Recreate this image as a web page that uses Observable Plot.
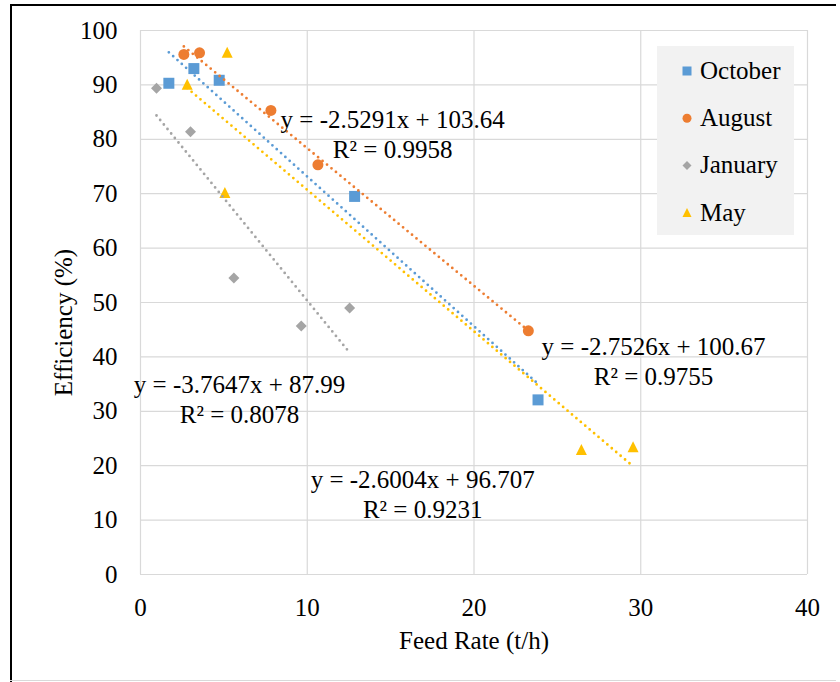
<!DOCTYPE html>
<html><head><meta charset="utf-8">
<script src="https://cdn.jsdelivr.net/npm/d3@7"></script>
<script src="https://cdn.jsdelivr.net/npm/@observablehq/plot@0.6"></script>
<style>
body{margin:0;background:#fff;}
#wrap{position:relative;width:840px;height:682px;overflow:hidden;font-family:"Liberation Serif","Times New Roman",Times,"Nimbus Roman","DejaVu Serif",serif;background:#fff;}
#wrap svg{display:block}
#wrap svg text{font-family:"Liberation Serif","Times New Roman",Times,"Nimbus Roman","DejaVu Serif",serif !important;}
.ln{position:absolute}
#legend{position:absolute;left:657px;top:46px;width:137px;height:189px;background:#F2F2F2;}
</style></head><body>
<div id="wrap"></div>
<script>
// ---- data ----
const series = ["October", "August", "January", "May"];
const colors = ["#5B9BD5", "#ED7D31", "#A5A5A5", "#FFC000"];
const octX = [1.7, 3.2, 4.72, 12.84, 23.84];
const octY = [90.3, 93.0, 90.85, 69.5, 32.1];
const augX = [2.6, 3.54, 7.82, 10.64, 23.26];
const augY = [95.6, 95.9, 85.3, 75.3, 44.8];
const janX = [0.96, 3.0, 5.6, 9.64, 12.54];
const janY = [89.4, 81.4, 54.5, 45.7, 49.0];
const mayX = [2.8, 5.06, 5.2, 26.44, 29.54];
const mayY = [90.1, 70.2, 96.0, 23.0, 23.5];
const slopes = [-2.7526, -2.5291, -3.7647, -2.6004];
const intercepts = [100.67, 103.64, 87.99, 96.707];
const eqText = ["y = -2.7526x + 100.67", "y = -2.5291x + 103.64", "y = -3.7647x + 87.99", "y = -2.6004x + 96.707"];
const r2Text = ["R² = 0.9755", "R² = 0.9958", "R² = 0.8078", "R² = 0.9231"];
const labelX = [30.77, 15.12, 5.94, 16.92];
const labelY = [39.3, 81.0, 32.3, 14.97];
const xTicks = [0, 10, 20, 30, 40];
const yTicks = [0, 10, 20, 30, 40, 50, 60, 70, 80, 90, 100];
const xTitle = "Feed Rate (t/h)";
const yTitle = "Efficiency (%)";

const FONT = "'Liberation Serif', 'Times New Roman', Times, 'Nimbus Roman', 'DejaVu Serif', serif";

// ---- symbols (Excel-like, centered on bounding box; r = sqrt(size/pi)) ----
const symSquare = {draw(c, size){const r = Math.sqrt(size/Math.PI); c.rect(-r, -r, 2*r, 2*r);}};
const symCircle = {draw(c, size){const r = Math.sqrt(size/Math.PI); c.moveTo(r, 0); c.arc(0, 0, r, 0, 2*Math.PI);}};
const symDiamond = {draw(c, size){const r = Math.sqrt(size/Math.PI); c.moveTo(0, -r); c.lineTo(r, 0); c.lineTo(0, r); c.lineTo(-r, 0); c.closePath();}};
const symTriangle = {draw(c, size){const r = Math.sqrt(size/Math.PI); c.moveTo(0, -r); c.lineTo(r, r); c.lineTo(-r, r); c.closePath();}};
const syms = [symSquare, symCircle, symDiamond, symTriangle];
const symR = [5.5, 5.5, 5.5, 5.5];

const xs = [octX, augX, janX, mayX];
const ys = [octY, augY, janY, mayY];
const pts = series.map((s, i) => xs[i].map((x, j) => ({series: s, x, y: ys[i][j]})));
const trend = series.flatMap((s, i) => {
  const [a, b] = d3.extent(xs[i]);
  return [a, b].map(x => ({series: s, x, y: slopes[i] * x + intercepts[i]}));
});
const labels = series.map((s, i) => ({series: s, x: labelX[i], y: labelY[i], text: eqText[i] + "\n" + r2Text[i]}));

const W = 840, H = 682;
const chart = Plot.plot({
  width: W, height: H,
  marginLeft: 140, marginRight: 33, marginTop: 30, marginBottom: 108,
  style: {fontFamily: FONT, fontSize: "25px", background: "transparent", color: "#000"},
  x: {domain: [0, 40], ticks: xTicks.length - 1, tickSize: 0, tickPadding: 24, label: null, tickFormat: d => String(d)},
  y: {domain: [0, 100], ticks: yTicks.length - 1, tickSize: 0, tickPadding: 23, label: null, tickFormat: d => String(d)},
  marks: [
    Plot.ruleY(yTicks, {y: d => d, stroke: "#D9D9D9", strokeWidth: 1.2}),
    Plot.ruleX(xTicks, {x: d => d, stroke: "#D9D9D9", strokeWidth: 1.2}),
    ...pts.map((p, i) => Plot.dot(p, {x: "x", y: "y", symbol: () => syms[i], r: symR[i], fill: colors[i], stroke: "none"})),
    Plot.line(trend, {x: "x", y: "y", z: "series", stroke: d => colors[series.indexOf(d.series)], strokeWidth: 2.8, strokeDasharray: "0 5.8", strokeLinecap: "round"}),
    Plot.text(labels, {x: "x", y: "y", text: "text", lineHeight: 1.2, fontSize: 25, fill: "#000", textAnchor: "middle", lineAnchor: "middle"}),
    Plot.text([xTitle], {frameAnchor: "bottom", dy: 66, text: d => d, fontSize: 25, fill: "#000", textAnchor: "middle", lineAnchor: "middle"}),
    Plot.text([yTitle], {frameAnchor: "left", dx: -77, dy: 20, rotate: -90, text: d => d, fontSize: 25, fill: "#000", textAnchor: "middle", lineAnchor: "middle"})
  ]
});
const wrap = document.getElementById("wrap");
wrap.appendChild(chart);

// legend
const lg = document.createElement("div");
lg.id = "legend";
wrap.appendChild(lg);
const lsvg = d3.select(lg).append("svg").attr("width", 137).attr("height", 189);
series.forEach((s, i) => {
  const cy = 25 + i * 47.2;
  lsvg.append("path").attr("d", d3.symbol(syms[i], Math.PI * 4.5 * 4.5)()).attr("transform", `translate(30,${cy})`).attr("fill", colors[i]);
  lsvg.append("text").attr("x", 43).attr("y", cy + 8).attr("font-size", 25).attr("font-family", FONT).attr("fill", "#000").text(s);
});

// outer border
function line(l, t, w, h, c){const d = document.createElement("div"); d.className = "ln"; Object.assign(d.style, {left: l+"px", top: t+"px", width: w+"px", height: h+"px", background: c}); wrap.appendChild(d);}
line(10, 4, 826, 2, "#000");
line(10, 4, 2, 678, "#000");
line(10, 680, 826, 1, "#D9D9D9");
</script>
</body></html>
